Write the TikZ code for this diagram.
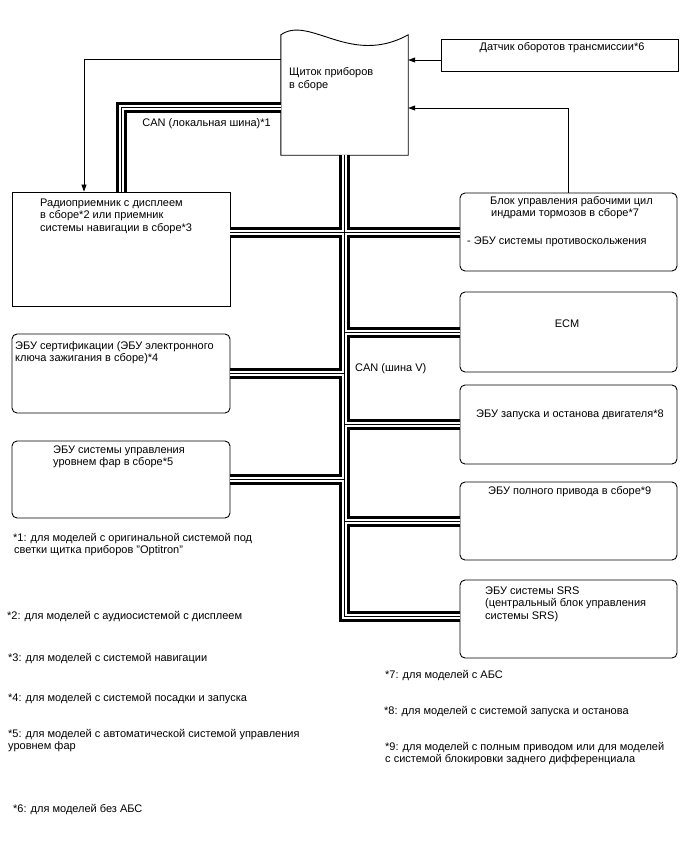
\documentclass[tikz,border=0pt]{standalone}
\usepackage{fontspec}
\setmainfont{Liberation Sans}
\usetikzlibrary{arrows.meta,calc}
\begin{document}
\begin{tikzpicture}[x=1pt,y=-1pt,
  box/.style={draw=black,line width=0.9pt,fill=white,inner sep=0pt},
  rbox/.style={box,rounded corners=5pt},
  hid/.style={draw=none,inner sep=0pt},
  lbl/.style={anchor=base west,inner sep=0pt,font=\fontsize{11}{13}\selectfont},
  clbl/.style={anchor=base,inner sep=0pt,font=\fontsize{11}{13}\selectfont},
  arr/.style={draw=black,line width=0.7pt,-{Triangle[length=7pt,width=5pt]}}
]
\useasboundingbox (0,0) rectangle (688,852);
\fill[white] (0,0) rectangle (688,852);

% nodes (boxes)
\node[hid,minimum width=127pt,minimum height=120pt] (meter) at (344.5,95) {};
\node[box,minimum width=237pt,minimum height=32pt] (sensor) at (559.5,55) {};
\node[box,minimum width=218pt,minimum height=114pt] (radio) at (121,249) {};
\node[rbox,minimum width=218pt,minimum height=79pt] (cert) at (121,373.5) {};
\node[rbox,minimum width=218pt,minimum height=77pt] (head) at (121,479.5) {};
\node[rbox,minimum width=217pt,minimum height=78pt] (brake) at (568.5,232) {};
\node[rbox,minimum width=217pt,minimum height=80pt] (ecm) at (568.5,332) {};
\node[rbox,minimum width=217pt,minimum height=79pt] (ss) at (568.5,424.5) {};
\node[rbox,minimum width=217pt,minimum height=78pt] (awd) at (568.5,521) {};
\node[rbox,minimum width=217pt,minimum height=78pt] (srs) at (568.5,619) {};
\coordinate (srsin) at ([yshift=3pt]srs.west);

% meter outline with wavy top
\draw[line width=0.9pt] (meter.north west) .. controls +(29,-20) and +(-58,32) .. (meter.north east)
  -- (meter.south east) -- (meter.south west) -- cycle;

% thin connectors with arrows
\draw[arr] ([yshift=-5pt]sensor.west) -- ([yshift=-5pt]sensor.west -| meter.east);
\draw[arr] (brake.north) |- ([yshift=-13pt]meter.east);
\draw[arr] ([yshift=36pt]meter.west) -| ([xshift=-37pt]radio.north);

% CAN buses (drawn in three passes: outer black, white gap, centre wire)
\foreach \w/\c in {11pt/black,5pt/white,0.8pt/black}{
  \draw[line width=\w,draw=\c,line join=miter] ([yshift=-12pt]meter.west) -| (radio.north);
  \draw[line width=\w,draw=\c,line join=miter] (meter.south) -- (meter.south |- srsin) -- (srsin);
  \draw[line width=\w,draw=\c] (brake.west -| radio.east) -- (brake.west);
  \draw[line width=\w,draw=\c] (ecm.west -| meter.south) -- (ecm.west);
  \draw[line width=\w,draw=\c] (cert.east) -- (cert.east -| meter.south);
  \draw[line width=\w,draw=\c] (ss.west -| meter.south) -- (ss.west);
  \draw[line width=\w,draw=\c] (head.east) -- (head.east -| meter.south);
  \draw[line width=\w,draw=\c] (awd.west -| meter.south) -- (awd.west);
}

% texts
\node[lbl] (m1) at (289,75.5) {Щиток приборов};
\node[lbl] (m2) at (289,88) {в сборе};
\node[clbl] (s1) at (562,50) {Датчик оборотов трансмиссии*6};
\node[lbl,anchor=base east] (can1) at (271,126) {CAN (локальная шина)*1};
\node[lbl] (can2) at (355,371) {CAN (шина V)};

\node[lbl] (r1) at (40,206) {Радиоприемник с дисплеем};
\node[lbl] (r2) at (40,218.5) {в сборе*2 или приемник};
\node[lbl] (r3) at (40,231) {системы навигации в сборе*3};

\node[lbl] (c1) at (15,349) {ЭБУ сертификации (ЭБУ электронного};
\node[lbl] (c2) at (15,361.5) {ключа зажигания в сборе)*4};

\node[lbl] (h1) at (53,453) {ЭБУ системы управления};
\node[lbl] (h2) at (53,465.5) {уровнем фар в сборе*5};

\node[lbl] (b1) at (490,204) {Блок управления рабочими цил};
\node[lbl] (b2) at (491,216.5) {индрами тормозов в сборе*7};
\node[lbl] (b3) at (467,244) {- ЭБУ системы противоскольжения};

\node[clbl] (e1) at (567,327) {ECM};
\node[lbl] (ss1) at (476,417) {ЭБУ запуска и останова двигателя*8};
\node[lbl] (a1) at (488,494) {ЭБУ полного привода в сборе*9};
\node[lbl] (sr1) at (485,594) {ЭБУ системы SRS};
\node[lbl] (sr2) at (485,606.5) {(центральный блок управления};
\node[lbl] (sr3) at (485,619) {системы SRS)};

% footnotes
\node[lbl] (f1a) at (13,541) {*1: для моделей с оригинальной системой под};
\node[lbl] (f1b) at (14,553.5) {светки щитка приборов "Optitron"};
\node[lbl] (f2) at (7,619) {*2: для моделей с аудиосистемой с дисплеем};
\node[lbl] (f3) at (8,661) {*3: для моделей с системой навигации};
\node[lbl] (f4) at (8,701) {*4: для моделей с системой посадки и запуска};
\node[lbl] (f5a) at (8,737) {*5: для моделей с автоматической системой управления};
\node[lbl] (f5b) at (8,749.5) {уровнем фар};
\node[lbl] (f6) at (13,812) {*6: для моделей без АБС};
\node[lbl] (f7) at (385,678) {*7: для моделей с АБС};
\node[lbl] (f8) at (384,714) {*8: для моделей с системой запуска и останова};
\node[lbl] (f9a) at (385,750) {*9: для моделей с полным приводом или для моделей};
\node[lbl] (f9b) at (385,762.5) {с системой блокировки заднего дифференциала};
\end{tikzpicture}
\end{document}
